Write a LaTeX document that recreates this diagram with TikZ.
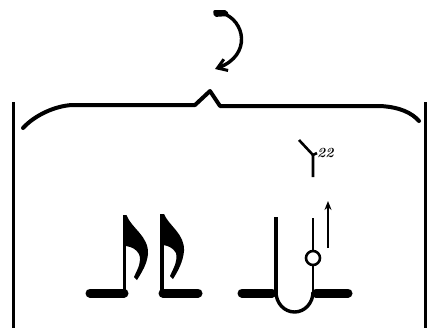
\documentclass[tikz,border=0pt]{standalone}
\usetikzlibrary{arrows.meta}
\begin{document}
\begin{tikzpicture}[x=1pt,y=-1pt,
  wall/.style={line width=3pt},
  bracestyle/.style={line width=4pt,line join=round,line cap=round},
  bar/.style={line width=9pt,line cap=round},
  stem/.style={line width=3.2pt},
  thin/.style={line width=2.6pt},
  lbl/.style={font=\fontsize{14}{14}\selectfont\bfseries\itshape,inner sep=0pt}]
\useasboundingbox (0,0) rectangle (436,330);
% walls
\draw[wall] (13,102) -- (13,328);
\draw[wall] (425,102) -- (425,328);
% brace
\draw[bracestyle] (23,128) .. controls (35,115) and (55,106) .. (72,105) -- (195,105) -- (210,91) -- (220,106) -- (380,106) .. controls (400,107) and (412,113) .. (419,121);
% curved arrow
\fill[rounded corners=2pt] (213,10) -- (227,10) -- (229,16) -- (214,17) -- cycle;
\draw[line width=3.4pt,-{Straight Barb[length=9pt,width=12pt,line width=3pt]}] (222,13) .. controls (245,20) and (252,55) .. (215,69);
% note 1
\draw[bar] (90,293) -- (124,293);
\draw[stem] (124.5,215) -- (124.5,297);
\fill (123,215) -- (126.5,215) .. controls (131,228) and (149,236) .. (148,254) .. controls (147,264) and (142,272) .. (137,280) -- (134,277) .. controls (138,268) and (142,262) .. (139,254) .. controls (136,249) and (132,247) .. (126,246) -- cycle;
% note 2
\draw[stem] (162,214) -- (162,297);
\draw[bar] (163,293) -- (198,293);
\fill (160.5,214) -- (164,214) .. controls (169,226) and (185,234) .. (184,251) .. controls (183,262) and (178,271) .. (173,279) -- (170,276) .. controls (174,267) and (178,261) .. (176,253) .. controls (173,248) and (169,246) .. (163.5,245) -- cycle;
% third element
\draw[bar] (242,293) -- (272,293);
\draw[stem] (276,217) -- (276,293);
\draw[line width=3.4pt] (276,292) arc[start angle=180,end angle=0,x radius=18.5pt,y radius=-20pt];
\draw[thin] (313,218) -- (313,251);
\draw[thin] (313,265) -- (313,293);
\draw[thin] (313,258) circle (7pt);
\draw[bar] (316,293) -- (348,293);
\draw[line width=2.4pt,-{Stealth[length=9pt,width=7pt]}] (328,248) -- (328,201);
% label 22
\node[lbl,anchor=south west] (l22) at (317,158) {22};
\coordinate (lead) at (313,177);
\draw[thin,line join=round] (lead) -- (313,155) -- (l22.west);
\draw[thin] (313,155) -- (299,140);
\end{tikzpicture}
\end{document}
